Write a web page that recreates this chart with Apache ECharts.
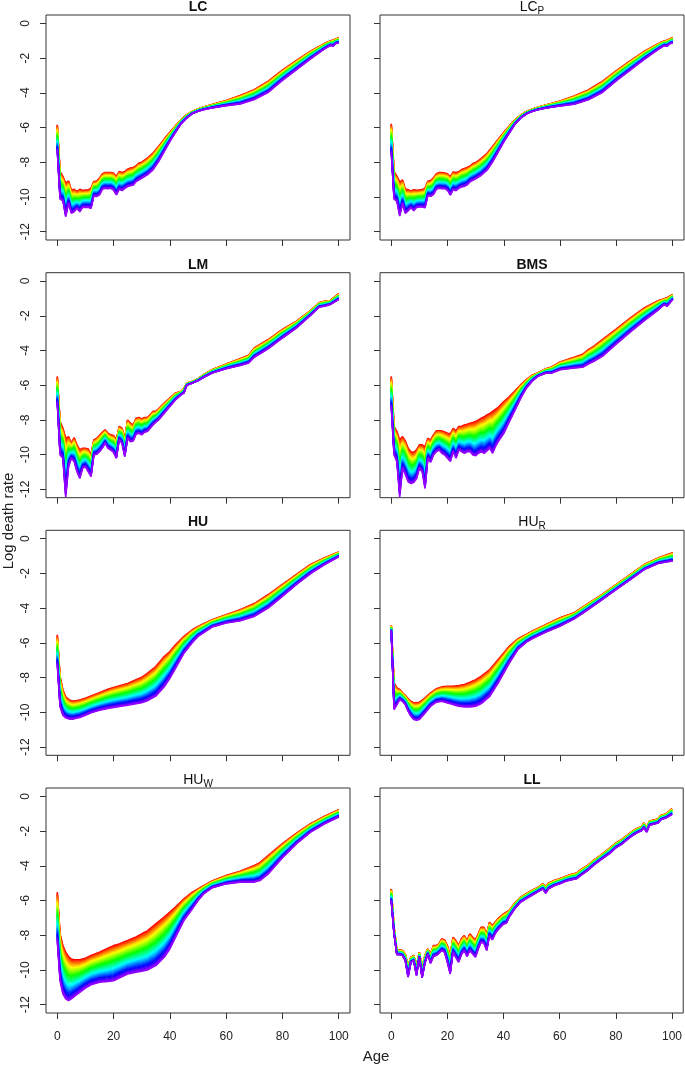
<!DOCTYPE html>
<html><head><meta charset="utf-8">
<script src="https://cdn.jsdelivr.net/npm/echarts@6/dist/echarts.min.js"></script>
<style>html,body{margin:0;padding:0;background:#fff}#c{width:685px;height:1068px}</style>
</head><body><div id="c"></div><script>
// ---- tick labels ----
const xTicks = [0, 20, 40, 60, 80, 100];
const yTicks = [0, -2, -4, -6, -8, -10, -12];

// ---- LC : first forecast year (red, top) and last forecast year (violet, bottom) ----
const lcAges  = [0,1,2,3,4,5,6,7,8,9,10,11,12,13,14,15,16,17,18,19,20,21,22,23,24,25,26,27,28,29,30,32,34,36,38,40,42,44,46,48,50,52,55,60,65,70,75,80,85,90,95,96,97,98,99,100];
const lcFirst = [-5.84,-8.54,-8.82,-9.21,-9.08,-9.60,-9.56,-9.69,-9.56,-9.63,-9.60,-9.60,-9.50,-9.11,-9.08,-8.92,-8.67,-8.59,-8.59,-8.59,-8.63,-8.82,-8.54,-8.59,-8.54,-8.40,-8.34,-8.30,-8.21,-8.05,-8.00,-7.77,-7.48,-7.09,-6.67,-6.28,-5.90,-5.55,-5.26,-5.07,-4.93,-4.82,-4.68,-4.45,-4.16,-3.82,-3.33,-2.70,-2.14,-1.60,-1.16,-1.08,-1.02,-0.96,-0.90,-0.83];
const lcLast  = [-7.30,-10.13,-10.21,-11.14,-10.37,-10.94,-10.85,-10.66,-10.85,-10.60,-10.60,-10.60,-10.66,-9.94,-9.98,-9.88,-9.56,-9.50,-9.52,-9.50,-9.60,-9.88,-9.56,-9.63,-9.50,-9.40,-9.36,-9.31,-9.11,-9.02,-8.92,-8.73,-8.44,-7.96,-7.38,-6.80,-6.28,-5.78,-5.45,-5.20,-5.07,-4.97,-4.87,-4.74,-4.64,-4.39,-3.97,-3.28,-2.66,-2.04,-1.46,-1.37,-1.27,-1.31,-1.16,-1.12];

// ---- LC_P ----
const lcpAges  = [0,1,2,3,4,5,6,7,8,9,10,11,12,13,14,15,16,17,18,19,20,21,22,23,24,25,26,27,28,29,30,32,34,36,38,40,42,44,46,48,50,52,55,60,65,70,75,80,85,90,95,96,97,98,99,100];
const lcpFirst = [-5.78,-8.54,-8.80,-9.15,-9.02,-9.55,-9.58,-9.65,-9.58,-9.62,-9.60,-9.58,-9.50,-9.10,-9.06,-8.90,-8.67,-8.60,-8.60,-8.62,-8.66,-8.85,-8.56,-8.60,-8.55,-8.42,-8.36,-8.30,-8.22,-8.08,-8.02,-7.78,-7.50,-7.10,-6.68,-6.28,-5.90,-5.55,-5.28,-5.08,-4.95,-4.84,-4.70,-4.48,-4.18,-3.84,-3.35,-2.72,-2.15,-1.60,-1.16,-1.08,-1.02,-0.97,-0.90,-0.82];
const lcpLast  = [-7.40,-10.13,-10.25,-11.10,-10.40,-10.95,-10.80,-10.62,-10.80,-10.60,-10.58,-10.58,-10.62,-9.92,-9.96,-9.86,-9.56,-9.50,-9.52,-9.52,-9.62,-9.90,-9.58,-9.64,-9.50,-9.42,-9.38,-9.30,-9.12,-9.04,-8.95,-8.75,-8.46,-7.98,-7.40,-6.82,-6.30,-5.80,-5.46,-5.22,-5.08,-4.98,-4.88,-4.76,-4.66,-4.40,-3.98,-3.30,-2.68,-2.06,-1.48,-1.38,-1.28,-1.32,-1.17,-1.12];

// ---- LM ----
const lmAges  = [0,1,2,3,4,5,6,7,8,9,10,11,12,13,14,15,16,17,18,19,20,21,22,23,24,25,26,27,28,29,30,31,32,33,34,35,36,38,40,42,44,45,46,48,50,52,55,60,65,68,70,75,80,85,90,93,95,97,100];
const lmFirst = [-5.49,-8.09,-8.48,-9.06,-8.96,-9.34,-9.02,-9.44,-9.73,-9.63,-9.63,-9.67,-10.02,-9.15,-9.06,-8.90,-8.71,-8.57,-8.77,-8.86,-8.90,-9.15,-8.38,-8.48,-9.06,-8.00,-8.19,-8.29,-7.90,-7.86,-7.94,-7.86,-7.86,-7.71,-7.51,-7.51,-7.36,-7.03,-6.74,-6.45,-6.36,-6.17,-5.88,-5.78,-5.63,-5.39,-5.11,-4.78,-4.47,-4.28,-3.85,-3.37,-2.79,-2.31,-1.70,-1.25,-1.16,-1.12,-0.73];
const lmLast  = [-7.00,-10.02,-10.21,-12.43,-10.69,-10.21,-10.40,-10.98,-11.37,-10.79,-10.69,-10.98,-11.27,-10.02,-9.98,-9.83,-9.63,-9.34,-9.63,-9.73,-9.87,-10.21,-9.15,-9.34,-10.12,-9.06,-9.25,-9.21,-8.82,-8.77,-8.86,-8.71,-8.67,-8.48,-8.29,-8.13,-8.00,-7.61,-7.23,-6.84,-6.55,-6.45,-6.01,-5.88,-5.74,-5.55,-5.30,-5.05,-4.86,-4.72,-4.39,-3.89,-3.28,-2.70,-1.97,-1.50,-1.45,-1.35,-1.06];

// ---- BMS ----
const bmsAges  = [0,1,2,3,4,5,6,7,8,9,10,11,12,13,14,15,16,17,18,19,20,21,22,23,24,25,26,27,28,29,30,31,32,33,34,35,36,37,38,40,42,44,46,48,50,52,55,57,60,65,68,70,72,75,80,85,90,95,97,98,100];
const bmsFirst = [-5.49,-8.38,-8.67,-9.15,-8.96,-9.21,-9.63,-9.83,-9.87,-9.73,-9.44,-9.44,-9.54,-9.06,-9.15,-8.86,-8.63,-8.62,-8.63,-8.70,-8.77,-8.80,-8.48,-8.63,-8.38,-8.36,-8.29,-8.25,-8.19,-8.15,-8.09,-8.00,-7.90,-7.82,-7.71,-7.62,-7.51,-7.40,-7.28,-6.94,-6.65,-6.32,-5.97,-5.68,-5.43,-5.30,-5.05,-4.95,-4.66,-4.39,-4.22,-3.95,-3.75,-3.37,-2.76,-2.12,-1.54,-1.12,-1.02,-0.96,-0.77];
const bmsLast  = [-7.20,-10.02,-10.40,-12.43,-10.79,-11.14,-11.56,-11.66,-11.60,-11.37,-10.79,-10.98,-11.95,-10.21,-10.44,-10.02,-9.83,-9.73,-9.92,-10.02,-10.21,-10.40,-9.83,-10.21,-9.73,-9.83,-9.92,-9.83,-9.83,-10.02,-10.06,-9.92,-9.83,-9.92,-9.79,-9.63,-9.92,-9.54,-9.25,-8.77,-8.09,-7.42,-6.74,-6.17,-5.78,-5.49,-5.30,-5.30,-5.11,-5.01,-4.97,-4.78,-4.62,-4.34,-3.62,-2.93,-2.27,-1.64,-1.35,-1.45,-1.06];

// ---- HU ----
const huAges  = [0,1,2,3,4,5,6,8,10,12,15,18,20,25,30,32,35,38,40,42,45,48,50,55,60,65,70,75,80,85,90,95,100];
const huFirst = [-5.54,-7.95,-8.72,-9.11,-9.26,-9.34,-9.36,-9.30,-9.20,-9.07,-8.88,-8.68,-8.57,-8.34,-7.99,-7.76,-7.37,-6.79,-6.50,-6.12,-5.63,-5.25,-5.06,-4.67,-4.38,-4.09,-3.74,-3.22,-2.64,-2.06,-1.49,-1.10,-0.77];
const huLast  = [-7.20,-9.69,-10.17,-10.32,-10.38,-10.40,-10.38,-10.30,-10.17,-10.03,-9.88,-9.78,-9.72,-9.59,-9.45,-9.34,-9.07,-8.53,-8.05,-7.47,-6.60,-5.98,-5.63,-5.09,-4.86,-4.73,-4.48,-3.99,-3.32,-2.64,-2.01,-1.49,-1.04];

// ---- HU_R ----
const hurAges  = [0,1,2,3,4,5,6,7,8,9,10,11,12,14,16,18,20,22,24,26,28,30,32,35,38,40,42,45,48,50,55,60,65,70,75,80,85,90,95,100];
const hurFirst = [-5.00,-8.31,-8.60,-8.69,-8.88,-9.04,-9.23,-9.37,-9.46,-9.46,-9.42,-9.31,-9.17,-8.88,-8.65,-8.54,-8.50,-8.50,-8.46,-8.40,-8.27,-8.12,-7.92,-7.54,-6.96,-6.58,-6.19,-5.77,-5.52,-5.33,-4.94,-4.56,-4.27,-3.73,-3.21,-2.63,-2.06,-1.48,-1.10,-0.81];
const hurLast  = [-5.30,-9.85,-9.56,-9.27,-9.37,-9.56,-9.94,-10.23,-10.42,-10.46,-10.42,-10.23,-10.04,-9.65,-9.42,-9.37,-9.46,-9.56,-9.65,-9.69,-9.69,-9.65,-9.50,-9.08,-8.31,-7.73,-7.15,-6.38,-5.96,-5.77,-5.38,-5.04,-4.62,-4.08,-3.50,-2.92,-2.35,-1.77,-1.42,-1.29];

// ---- HU_W ----
const huwAges  = [0,1,2,3,4,5,6,8,10,12,15,18,20,22,25,28,30,32,35,38,40,42,45,48,50,52,55,60,65,70,72,75,80,85,90,95,100];
const huwFirst = [-5.52,-7.92,-8.60,-8.98,-9.23,-9.37,-9.42,-9.42,-9.33,-9.17,-8.98,-8.75,-8.60,-8.50,-8.31,-8.10,-7.92,-7.75,-7.35,-6.95,-6.67,-6.38,-5.90,-5.52,-5.33,-5.15,-4.88,-4.56,-4.31,-3.98,-3.82,-3.40,-2.73,-2.12,-1.58,-1.15,-0.77];
const huwLast  = [-8.30,-10.62,-11.38,-11.67,-11.77,-11.67,-11.54,-11.29,-11.04,-10.85,-10.71,-10.67,-10.62,-10.46,-10.23,-10.13,-10.08,-10.00,-9.75,-9.27,-8.79,-8.12,-7.15,-6.48,-6.00,-5.62,-5.27,-5.04,-4.94,-4.94,-4.85,-4.46,-3.54,-2.73,-2.06,-1.58,-1.19];

// ---- LL ----
const llAges  = [0,1,2,3,4,5,6,7,8,9,10,11,12,13,14,15,16,17,18,19,20,21,22,23,24,25,26,27,28,29,30,31,32,33,34,35,36,37,38,40,41,42,44,46,48,50,52,54,55,56,58,60,62,64,66,68,70,72,74,76,78,80,82,84,86,88,89,90,91,92,94,95,96,98,100];
const llFirst = [-5.33,-7.54,-8.85,-8.85,-8.88,-9.08,-9.75,-9.27,-9.17,-9.75,-8.98,-9.85,-9.17,-8.79,-9.08,-8.60,-8.60,-8.50,-8.21,-8.27,-8.60,-9.17,-8.12,-8.31,-8.60,-8.21,-8.02,-8.31,-7.92,-8.12,-8.27,-7.92,-7.54,-7.54,-7.92,-7.25,-7.44,-7.25,-7.06,-6.77,-6.67,-6.58,-6.15,-5.81,-5.62,-5.42,-5.27,-5.04,-5.19,-5.00,-4.85,-4.75,-4.62,-4.50,-4.42,-4.17,-3.98,-3.69,-3.46,-3.21,-2.96,-2.69,-2.50,-2.25,-2.00,-1.81,-1.77,-1.54,-1.77,-1.42,-1.35,-1.29,-1.10,-1.00,-0.71];
const llLast  = [-6.00,-7.92,-9.12,-9.12,-9.17,-9.46,-10.42,-9.56,-9.46,-10.33,-9.27,-10.46,-9.62,-9.08,-9.62,-9.23,-9.17,-9.04,-8.88,-8.98,-9.56,-10.23,-8.98,-9.27,-9.56,-9.12,-8.88,-9.23,-8.88,-9.08,-9.27,-8.79,-8.40,-8.46,-8.88,-8.02,-8.27,-7.92,-7.69,-7.35,-7.31,-6.96,-6.48,-6.10,-5.90,-5.71,-5.52,-5.33,-5.58,-5.33,-5.15,-5.04,-4.90,-4.81,-4.75,-4.50,-4.27,-3.98,-3.73,-3.50,-3.27,-2.96,-2.77,-2.50,-2.25,-2.06,-2.00,-1.81,-2.06,-1.67,-1.58,-1.54,-1.35,-1.23,-1.04];

// ---- panel definitions (built from the arrays above) ----
const panels = [
  {name: 'LC',  sub: '',  ages: lcAges,  first: lcFirst,  last: lcLast},
  {name: 'LC',  sub: 'P', ages: lcpAges, first: lcpFirst, last: lcpLast},
  {name: 'LM',  sub: '',  ages: lmAges,  first: lmFirst,  last: lmLast},
  {name: 'BMS', sub: '',  ages: bmsAges, first: bmsFirst, last: bmsLast},
  {name: 'HU',  sub: '',  ages: huAges,  first: huFirst,  last: huLast},
  {name: 'HU',  sub: 'R', ages: hurAges, first: hurFirst, last: hurLast},
  {name: 'HU',  sub: 'W', ages: huwAges, first: huwFirst, last: huwLast},
  {name: 'LL',  sub: '',  ages: llAges,  first: llFirst,  last: llLast}
];

const NYEARS = 36;         // number of forecast years drawn in each fan
const FONT = 'Liberation Sans, Arial, sans-serif';
const INK = '#222';

function hsv(h) { // s = v = 1
  const c = 1, hp = h / 60, x = c * (1 - Math.abs(hp % 2 - 1));
  let r=0,g=0,b=0;
  if (hp < 1) {r=c;g=x;} else if (hp < 2) {r=x;g=c;} else if (hp < 3) {g=c;b=x;}
  else if (hp < 4) {g=x;b=c;} else if (hp < 5) {r=x;b=c;} else {r=c;b=x;}
  const f = v => Math.round(v*255);
  return 'rgb(' + f(r) + ',' + f(g) + ',' + f(b) + ')';
}

const colLeft = [46, 380];
const rowTop = [15, 272.7, 530.3, 788];
const W = 304, H = 225;

const grid = [], xAxis = [], yAxis = [], series = [], title = [];
panels.forEach((p, i) => {
  const col = i % 2, row = Math.floor(i / 2);
  grid.push({left: colLeft[col], top: rowTop[row], width: W, height: H,
    show: true, borderColor: '#333', borderWidth: 1, backgroundColor: 'transparent', containLabel: false});
  xAxis.push({type: 'value', gridIndex: i, min: -4, max: 104, position: 'bottom', splitLine: {show: false},
    axisLine: {show: false, onZero: false},
    axisTick: {show: true, customValues: xTicks, length: 6, lineStyle: {color: '#333'}},
    axisLabel: {show: row === 3, customValues: xTicks, fontSize: 12, color: INK, fontFamily: FONT, margin: 18}});
  yAxis.push({type: 'value', gridIndex: i, min: -12.48, max: 0.48, position: 'left', splitLine: {show: false},
    axisLine: {show: false, onZero: false},
    axisTick: {show: true, customValues: yTicks, length: 6, lineStyle: {color: '#333'}},
    axisLabel: {show: col === 0, customValues: yTicks, fontSize: 12, color: INK, fontFamily: FONT, rotate: 90, margin: 14,
      formatter: v => String(v)}});
  const cx = colLeft[col] + W / 2;
  title.push({
    text: p.sub ? '{m|' + p.name + '}{s|' + p.sub + '}' : '{b|' + p.name + '}',
    left: cx, top: rowTop[row] - 17, textAlign: 'center', padding: 0,
    textStyle: {fontWeight: 'normal', rich: {
      b: {fontSize: 14, fontWeight: 'bold', color: '#111', fontFamily: FONT, lineHeight: 18},
      m: {fontSize: 14, fontWeight: 'normal', color: '#111', fontFamily: FONT, lineHeight: 18},
      s: {fontSize: 10, fontWeight: 'normal', color: '#111', fontFamily: FONT, lineHeight: 12, verticalAlign: 'bottom'}
    }}
  });
  for (let k = 0; k < NYEARS; k++) {
    const t = k / (NYEARS - 1);
    const data = p.ages.map((a, j) => [a, p.first[j] + (p.last[j] - p.first[j]) * t]);
    series.push({type: 'line', xAxisIndex: i, yAxisIndex: i, data: data,
      showSymbol: false, symbol: 'none', silent: true, animation: false,
      lineStyle: {width: 1.6, color: hsv(t * 275)}, z: 2 + k / 100});
  }
});

const chart = echarts.init(document.getElementById('c'), null, {renderer: 'canvas'});
chart.setOption({
  backgroundColor: '#fff',
  animation: false,
  title, grid, xAxis, yAxis, series,
  graphic: [
    {type: 'text', x: 9, y: 521, rotation: Math.PI / 2,
      style: {text: 'Log death rate', font: '15px Liberation Sans, Arial, sans-serif', fill: INK, align: 'center', verticalAlign: 'middle'}},
    {type: 'text', x: 376, y: 1057,
      style: {text: 'Age', font: '15px Liberation Sans, Arial, sans-serif', fill: INK, align: 'center', verticalAlign: 'middle'}}
  ]
});
</script></body></html>
